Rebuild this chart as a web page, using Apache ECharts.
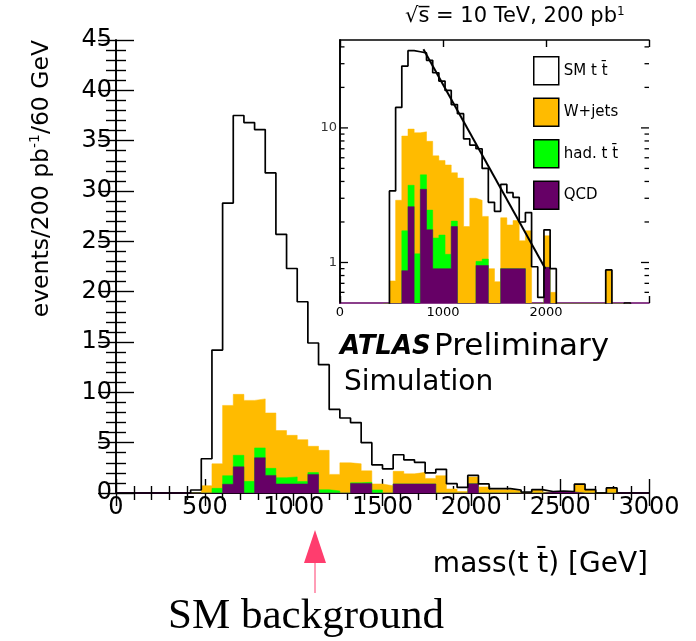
<!DOCTYPE html>
<html><head><meta charset="utf-8">
<script src="https://cdn.jsdelivr.net/npm/echarts@6/dist/echarts.min.js"></script>
<style>html,body{margin:0;padding:0;background:#fff}#c{width:696px;height:641px}</style>
</head><body><div id="c"></div>
<script>
// ---- data (60 GeV bins, first bin starts at 420 GeV) ----
const binWidth = 60;
const firstEdge = 420;
const qcd   = [0,0,0,0.87,2.6,0,3.5,1.75,0.9,0.9,0.9,1.85,0,0,0,0.95,0.95,0,0,0.9,0.9,0.9,0.9,0,0,0,0.92,0,0,0,0,0,0,0.1,0.1,0.1,0,0,0,0];
const hadTT = [0,0,0.46,0.85,1.15,1.16,0.98,0.7,0.62,0.7,0.25,0.18,0.33,0.2,0,0.07,0.11,0.3,0,0,0,0,0,0,0,0,0,0,0,0,0,0,0,0,0,0,0,0,0,0];
const wJets = [0,0.73,2.44,6.98,6.05,8.04,4.87,5.5,4.68,4.13,4.15,2.61,3.91,1.65,3.0,1.88,1.14,0.6,0.72,1.25,1.0,1.15,0.55,1.72,0.4,0.15,0.66,0.6,0.33,0.33,0.26,0,0.33,0,0.05,0,0.88,0.3,0,0.45];
const smTT  = [0.3,2.67,11.3,20.1,27.7,27.6,26.75,23.85,19.5,16.57,13.7,10.26,8.51,6.45,4.45,4.1,2.8,1.9,1.68,1.65,1.4,1.0,0.55,0.63,0.53,0.4,0.17,0.3,0.1,0.1,0.04,0.1,0,0.05,0.05,0.05,0,0.03,0,0.05];
const fitLine = [[810, 38.4], [1994, 0.9]];
const logMinorTicks = [0.6,0.7,0.8,0.9,2,3,4,5,6,7,8,9,20,30,40];
const logMajorTicks = [1,10];
const names = ['SM t t\u0304', 'W+jets', 'had. t t\u0304', 'QCD'];
const colors = {sm:'#000000', w:'#FFBB00', had:'#00FF00', qcd:'#660066'};

// ---- helpers ----
function cum(...arrs){ return arrs[0].map((_,i)=>arrs.reduce((s,a)=>s+a[i],0)); }
const cQ = cum(qcd), cG = cum(qcd,hadTT), cW = cum(qcd,hadTT,wJets), cT = cum(qcd,hadTT,wJets,smTT);
function stepData(vals, floor){
  const out = [[firstEdge, floor]];
  vals.forEach((v,i)=>out.push([firstEdge+i*binWidth, Math.max(v, floor)]));
  out.push([firstEdge+vals.length*binWidth, floor]);
  return out;
}
const FONT = 'DejaVu Sans';
function areaSeries(name, vals, color, floor, xi, yi, z){
  return {type:'line', name, step:'end', data:stepData(vals, floor), xAxisIndex:xi, yAxisIndex:yi,
    showSymbol:false, symbol:'none', z, silent:true, clip:true,
    lineStyle:{color, width:0.5}, itemStyle:{color},
    areaStyle:{color, opacity:1, origin:'start'}};
}
function outlineSeries(name, vals, floor, xi, yi, z){
  return {type:'line', name, step:'end', data:stepData(vals, floor), xAxisIndex:xi, yAxisIndex:yi,
    showSymbol:false, symbol:'none', z, silent:true, clip:true,
    lineStyle:{color:'#000', width:1.7}, itemStyle:{color:'#fff'}};
}
const tickStyle = {color:'#000', width:1.4};
const plain = v => String(v);

const chart = echarts.init(document.getElementById('c'), null, {renderer:'canvas'});
const option = {
  animation:false,
  backgroundColor:'#fff',
  grid:[
    {left:116, top:40, width:533, height:453, show:false},
    {left:340, top:40, width:309, height:263, show:true, backgroundColor:'#fff', borderWidth:0, z:10}
  ],
  xAxis:[
    {type:'value', gridIndex:0, position:'bottom', min:0, max:3000, interval:500,
     axisLine:{lineStyle:{color:colors.qcd, width:2}},
     axisTick:{inside:true, length:14, lineStyle:tickStyle},
     minorTick:{show:true, splitNumber:5, length:7, lineStyle:tickStyle},
     axisLabel:{fontSize:24, fontFamily:FONT, color:'#000', margin:3, formatter:plain, showMinLabel:true, showMaxLabel:true},
     splitLine:{show:false}},
    {type:'value', gridIndex:0, position:'top', min:0, max:3000, interval:500,
     axisLine:{lineStyle:{color:'#000', width:1.6}},
     axisTick:{inside:true, length:13, lineStyle:tickStyle},
     minorTick:{show:true, splitNumber:5, length:7, lineStyle:tickStyle},
     axisLabel:{show:false}, splitLine:{show:false}},
    {type:'value', gridIndex:1, position:'bottom', min:0, max:3000, interval:1000, z:11,
     axisLine:{lineStyle:{color:colors.qcd, width:1.6}},
     axisTick:{inside:true, length:7, lineStyle:tickStyle},
     axisLabel:{fontSize:13, fontFamily:FONT, color:'#000', margin:3, showMinLabel:true,
       formatter:v=> v>=3000 ? '' : String(v)},
     splitLine:{show:false}},
    {type:'value', gridIndex:1, position:'top', min:0, max:3000, interval:1000, z:11,
     axisLine:{lineStyle:{color:'#000', width:1.6}},
     axisTick:{inside:true, length:7, lineStyle:tickStyle},
     axisLabel:{show:false}, splitLine:{show:false}}
  ],
  yAxis:[
    {type:'value', gridIndex:0, position:'left', min:0, max:45, interval:5,
     axisLine:{show:true, lineStyle:{color:'#000', width:1.6}},
     axisTick:{inside:true, length:18, lineStyle:tickStyle},
     minorTick:{show:true, splitNumber:5, length:10, lineStyle:tickStyle},
     axisLabel:{fontSize:24, fontFamily:FONT, color:'#000', margin:4, formatter:plain},
     splitLine:{show:false}},
    {type:'value', gridIndex:0, position:'right', min:0, max:45, interval:5,
     axisLine:{show:true, lineStyle:{color:'#000', width:1.6}},
     axisTick:{inside:true, length:18, lineStyle:tickStyle},
     minorTick:{show:true, splitNumber:5, length:10, lineStyle:tickStyle},
     axisLabel:{show:false}, splitLine:{show:false}},
    {type:'log', gridIndex:1, position:'left', min:0.5, max:45, logBase:10, z:11,
     axisLine:{show:true, lineStyle:{color:'#000', width:1.6}},
     axisTick:{show:false},
     axisLabel:{fontSize:13, fontFamily:FONT, color:'#333', margin:3,
       formatter:v=> (Math.abs(v-1)<1e-6 ? '1' : (Math.abs(v-10)<1e-6 ? '10' : ''))},
     splitLine:{show:false}},
    {type:'log', gridIndex:1, position:'right', min:0.5, max:45, logBase:10, z:11,
     axisLine:{show:true, lineStyle:{color:'#000', width:1.6}},
     axisTick:{show:false}, axisLabel:{show:false}, splitLine:{show:false}}
  ],
  legend:{
    orient:'vertical', left:533, top:56, padding:0, itemWidth:25, itemHeight:28, itemGap:12, z:30,
    icon:'rect', selectedMode:false,
    textStyle:{fontFamily:FONT, fontSize:15, color:'#000'},
    data:[
      {name:names[0], itemStyle:{color:'#fff', borderColor:'#000', borderWidth:1.5}},
      {name:names[1], itemStyle:{color:colors.w, borderColor:'#000', borderWidth:1.5}},
      {name:names[2], itemStyle:{color:colors.had, borderColor:'#000', borderWidth:1.5}},
      {name:names[3], itemStyle:{color:colors.qcd, borderColor:'#000', borderWidth:1.5}}
    ]
  },
  series:[
    // main linear plot
    areaSeries(names[1], cW, colors.w, 0, 0, 0, 2),
    areaSeries(names[2], cG, colors.had, 0, 0, 0, 3),
    areaSeries(names[3], cQ, colors.qcd, 0, 0, 0, 4),
    outlineSeries(names[0], cT, 0, 0, 0, 5),
    // inset log plot
    areaSeries(names[1], cW, colors.w, 0.05, 2, 2, 12),
    areaSeries(names[2], cG, colors.had, 0.05, 2, 2, 13),
    areaSeries(names[3], cQ, colors.qcd, 0.05, 2, 2, 14),
    outlineSeries(names[0], cT, 0.05, 2, 2, 15),
    {type:'line', name:'fit', data:fitLine, xAxisIndex:2, yAxisIndex:2, showSymbol:false, symbol:'none',
     z:16, silent:true, lineStyle:{color:'#000', width:2}},
    {type:'custom', name:'logticks', xAxisIndex:2, yAxisIndex:2, z:17, silent:true, clip:false,
     data: logMinorTicks.map(v=>[0, v, 0]).concat(logMajorTicks.map(v=>[0, v, 1])),
     renderItem:(params, api)=>{
       const p = api.coord([0, api.value(1)]);
       const cs = params.coordSys;
       const len = api.value(2) ? 8 : 4.5;
       const st = {stroke:'#000', lineWidth:1.3};
       return {type:'group', children:[
         {type:'line', shape:{x1:cs.x, y1:p[1], x2:cs.x+len, y2:p[1]}, style:st},
         {type:'line', shape:{x1:cs.x+cs.width-len, y1:p[1], x2:cs.x+cs.width, y2:p[1]}, style:st}
       ]};
     }}
  ],
  graphic:[
    {type:'text', x:405, y:17, z:50, style:{
      text:'{a|\u221As\u0305 = 10 TeV, 200 pb}{s|1}', verticalAlign:'middle', align:'left',
      rich:{a:{fontFamily:FONT, fontSize:21, fill:'#000'}, s:{fontFamily:FONT, fontSize:12, fill:'#000', padding:[0,0,10,0]}}}},
    {type:'text', x:42, y:40, rotation:Math.PI/2, z:50, style:{
      text:'{a|events/200 pb}{s|-1}{a|/60 GeV}', align:'right', verticalAlign:'middle',
      rich:{a:{fontFamily:FONT, fontSize:23.5, fill:'#000'}, s:{fontFamily:FONT, fontSize:14, fill:'#000', padding:[0,0,13,0]}}}},
    {type:'text', x:648, y:565, z:50, style:{
      text:'mass(t t\u0304) [GeV]', align:'right', verticalAlign:'middle',
      font:'28px "DejaVu Sans"', fill:'#000'}},
    {type:'text', x:340, y:347, z:50, style:{
      text:'{b|ATLAS} {n|Preliminary}', align:'left', verticalAlign:'middle',
      rich:{b:{fontFamily:FONT, fontSize:26, fontWeight:'bold', fontStyle:'italic', fill:'#000'},
            n:{fontFamily:FONT, fontSize:31, fill:'#000'}}}},
    {type:'text', x:344, y:383, z:50, style:{
      text:'Simulation', align:'left', verticalAlign:'middle', font:'28px "DejaVu Sans"', fill:'#000'}},
    {type:'line', z:50, shape:{x1:315, y1:560, x2:315, y2:593}, style:{stroke:'#ff3d6e', lineWidth:1}},
    {type:'polygon', z:50, shape:{points:[[315,530],[304,563],[326,563]]}, style:{fill:'#ff3d6e'}},
    {type:'text', x:306, y:617, z:50, style:{
      text:'SM background', align:'center', verticalAlign:'middle',
      font:'43px "Liberation Serif"', fill:'#000'}}
  ]
};
chart.setOption(option);
</script></body></html>
